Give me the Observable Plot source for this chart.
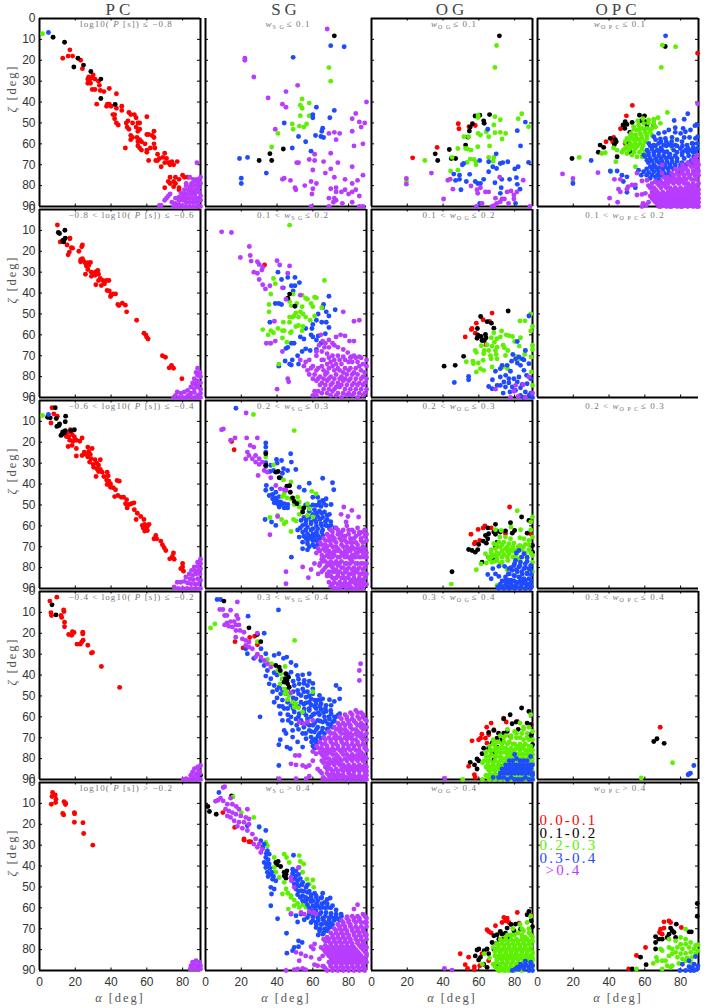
<!DOCTYPE html>
<html><head><meta charset="utf-8">
<style>
html,body{margin:0;padding:0;background:#fff}
g[font-family="Liberation Serif"]{letter-spacing:1.9px}
g[font-size="17"]{letter-spacing:4px}
g[font-size="15"]{letter-spacing:2.2px}
g[font-size="9"]{letter-spacing:1.05px}
</style>
<script src="https://cdn.jsdelivr.net/npm/d3@7"></script>
<script src="https://cdn.jsdelivr.net/npm/@observablehq/plot@0.6"></script>
</head><body><div id="c"></div>
<script>
const columns=["PC","SG","OG","OPC"];
const rows=[1,2,3,4,5];
const colorNames=["0.0-0.1","0.1-0.2","0.2-0.3","0.3-0.4",">0.4"];
const colorValues=["#ff0000","#000000","#5ef000","#1f4bff","#b83cff"];
const axisless=["SG1","OPC2","OPC3"];
const greenOverBlue=["SG2","SG3","SG4"];
const xTicks=[0,20,40,60,80];
const yTicks=[0,10,20,30,40,50,60,70,80,90];
const titleByPanel={
PC:["log10( *P* [s]) ≤ −0.8","−0.8 < log10( *P* [s]) ≤ −0.6","−0.6 < log10( *P* [s]) ≤ −0.4","−0.4 < log10( *P* [s]) ≤ −0.2","log10( *P* [s]) > −0.2"],
SG:["*w*{S G}≤ 0.1","0.1 < *w*{S G}≤ 0.2","0.2 < *w*{S G}≤ 0.3","0.3 < *w*{S G}≤ 0.4","*w*{S G}> 0.4"],
OG:["*w*{O G}≤ 0.1","0.1 < *w*{O G}≤ 0.2","0.2 < *w*{O G}≤ 0.3","0.3 < *w*{O G}≤ 0.4","*w*{O G}> 0.4"],
OPC:["*w*{O P C}≤ 0.1","0.1 < *w*{O P C}≤ 0.2","0.2 < *w*{O P C}≤ 0.3","0.3 < *w*{O P C}≤ 0.4","*w*{O P C}> 0.4"]};
// each panel: [red, black, green, blue, purple], flat alpha,zeta pairs
const PC1=[
[13,19,16,18,17,15,18.5,18,23,20,24,24,30,27,27.5,28,29,28.5,27,29,28,30,31,29,27,31,28.5,31,33,30,33.5,32,29.5,34,31,34,34,34.5,36,35,39,33.5,32,41,38,41,39,41,37.5,42,40,42,43,36,41,46,42,46,43,43,46,42,46,44,42,48,43,50,44,51,50,45,51,46,53,46,54,47.5,55,50,48.5,50,49,52,50,53,49.5,49,52,50,54,52,56,50,56,53,55,54,60,47,51,56,51,58,52,57,54.5,57,55,59,56,58,57,59,48,62,55,61,56,62,57,63,59,60,60,55.5,61,55.5,63,56,64,54,64,57,60,63,62,62,64,60,64.5,62,60,64,61,68,65,68,66,65,66,68,68,71,67,67,69,66.5,70,64.5,71,67,70,69,72,69,73,69,74,68.5,73,70,75,70,77,68.5,72,78,73,76,73,79,70,81,75,78,75,80.5,76,79,76,76,78,77,78,81,80,75,81,76,83,76,78,82,85,83,85,80,88,80,89,90],
[7.6,9,14,11.4,21.5,19,24.6,22.3,19.2,23.2,28.7,25.4,34.3,29,34.3,38.3,42.3,41.2],
[1.7,7.3],[5,6.7],
[88,69,82,79,84,76,86,77,88,77,90,76,85,79,87,78,89,78,82,80,84,80.5,86,80,88,80,90,79,81,82,83,82,85,82,87,82,89,81,79,83.5,81,84,83,84,85,84,87,84,89,83,90,85,78,85.5,80,85.5,82,86,84,86,86,86,88,86,76,86,78,87,80,87,82,88,84,88,86,88,88,88,90,87,74,88,76,88.5,78,89,80,89.5,82,90,84,90,86,90,88,90,90,90,72,85,73,84,71,86,70,87,67,89.5,68,89.5,75,90,77,90,79,90]];
const PC2=[
[10,7.4,11.6,15.5,17,13.7,17,14,15.4,17,17.8,18.3,18.5,18.5,16.7,20.4,16,21.7,22,20,24,17,23.6,17.8,23,24,24,23.6,23,25,24.7,24.7,25.7,25.7,27,25.5,28.5,25.4,27.5,26.8,26.2,27,27,28.7,25.7,31,29,30,30.3,30.5,31.6,29.8,32.6,29.2,29,32,31,31.5,33,31,34,33,33,34,35.4,34,34.6,36.4,31.5,36,36.3,35.6,37.5,34,38.8,34,37.8,38.8,39,39,40,41,39.7,41.7,41.2,40.4,42.5,40.4,43.8,45.5,44.4,46,46.3,44.8,48,45.8,48.7,49,54.3,53,58.4,59.2,59.4,60,60,61.2,60.7,62,68.7,70,70.4,70.7,73.8,74.6,72.5,75.8,74.9,76,79.6,81],
[14.2,9.9,10.5,11,11.2,11.5,13,14.8,13.9,14.4,14.4,13.7,13.5,15.5],[],[],
[88.4,76,89.7,78,87.5,78,88.4,79.4,90,80,86.5,81,88,82,90,83,85.6,83,87.4,83.7,84.6,85,86.5,85.8,88.5,85,90,86,82.8,86.6,86,83.5,88,84,76,89,77,87.4,79,88,81,87.4,83,89,84.6,88,86.5,87.5,88.4,89,90,88,75,90,78,90,80,90,82,90,85,90,87,90,90,90]];
const PC3=[
[7,3.5,8,6.4,10,7.5,6.4,10.8,14.8,15.6,16.3,15.2,17.2,14,15,17.2,16.3,17.5,18.2,16.3,19.5,17.5,16.9,19,18.7,19.5,20.6,19,22.5,19.5,23.8,17.9,16,22,18.2,21.5,20.6,23,20.6,26.6,23.8,26.3,27,22.3,27.5,24.4,29.4,23,25,24.7,26,25.8,28.4,25.8,27,27,28.8,27.9,31,28.4,34,28.4,28,29.5,30,30.6,32,30,33,31,30.3,32,32,32.7,34,33,31.6,36.4,35,34.3,33,34,37.8,34.3,38.4,36,36,36.4,37.5,38,38.8,38.6,37.8,40.2,39.7,40,41.2,41.8,42.5,42.7,39.7,41.5,43.4,38.3,44.6,38.6,42,46,43.8,45.5,45.7,46.3,47,46.3,48.7,47.5,48.1,49.4,50,49.8,51.3,49.4,52.8,49,49,51.4,53,52.3,54.7,54,54,57,56.6,55.5,58.4,57,61.2,59.3,57.5,59.8,58.8,59.3,60.3,60.3,58,61,59.4,61.4,60.3,62.2,58.8,62.5,65,64.6,64,66.2,65.5,66.2,67.8,67.3,68.7,69,69.7,70.5,70.6,71.8,74.9,73,74.3,74.6,72.8,75.8,75.3,76,80,78,80,79.7,79,80.5,80.5,81.7],
[8.8,3.5,4.5,8,6,8.3,9.4,8.6,14.6,7.5,14.4,10.2,11.2,11.2,9.7,12.4,10.9,12,13,15,14.4,14.4,12.5,16.3,12,16.7,13.9,15.6,17.6,14.4,19.5,14],
[1.7,7.2],[5,6.7],
[90,76,88.4,77.4,90,78,86.5,79.7,88.4,79.4,90,80.5,85,81.3,87,81.7,88.8,81.3,83.7,83,85.6,83.7,87.4,83,89.7,83,81.8,84.5,84,85.3,86,85.8,88.4,85.3,90,86,77,87,79,87,81,86.6,82.8,87.4,84.6,87.7,87,88,88.8,87.7,75.3,89.3,77.5,90,80,90,82.5,90,85,90,87.5,90,90,90]];
const PC4=[
[5.8,4.6,9.7,2.7,6.4,10.2,6.7,11.5,13.5,8.8,13.7,9.6,12,11.5,12.4,12.4,14,14.7,14,16.9,16.3,20.6,18,21,18.4,19.3,19.3,19.6,24.2,19.5,24.2,20.3,24.4,23.3,21,25.2,22.8,25.2,23.6,24.2,27,25.7,29,29.5,29.6,29.2,34.6,35.9,44.8,45.9],
[7,6.4,9.2,11.2,90,88],[],[],
[90,83.3,88.4,84,86.6,84.8,89,85.6,85.6,86.4,87.4,87.2,89.6,87.2,84.6,88,86,88.8,88.4,88.8,80.5,90,82,89.6,83.7,90,85.6,90,87.5,90,90,90]];
const PC5=[
[7.3,4.8,7,6.7,8.8,6,9.2,8,9,9.6,6.6,10.4,13.7,9.2,14.6,9.9,14.5,10.5,13,14.8,13.5,15.5,19.5,14.4,19.6,15,19.5,19,24.3,19.3,24.7,24.4,29.8,30],
[],[],[],
[87.5,85.3,89.3,86,85.6,86,84.7,87.7,86.5,87.2,88.4,87.7,90,87.7,84.3,89.3,86,89.3,88,89.3,90,89.3]];
const SG1=[[],
[72,8.3,43.5,62.5,36,64.7,30,68,37,68],
[69,23.5,70,30,54,38.5,58,40.5,53,41.5,54,43,58,46.5,53,46.5,48.5,50.5,49,53,56.5,50.5,52.5,51.5,55,52,40.5,55,37,61.5],
[49,18.6,70,13,77.5,13.5,62,42.5,72,44,60,46,60,47.5,69.5,47.5,44,50,65.5,52.5,65,54,61.5,56,64.5,56.5,66,57,52,56.5,56,59,48.5,62,59,63.5,19,67,23.5,66.5,34,74,20,76.5,20,79],
[68,5,22,19,22,20,27,28,51.5,32,45,35,35,38,43,41,45,42.5,39,53,82,54,82,48,84,45.5,86,49.5,87,52,69,55,72,54.5,75,55,73,58,83,61,70,64.5,58,67.5,61,65,61,68,66,68.5,51,69,52,69,60,72.5,70,72,74,69,82,71,67,74,72,76,78,77,85,77.5,43,77,44,76.5,47.5,77.5,50,81,50.5,82,55.5,80,59,78,62,79,60,81.5,59.5,84,70,81.5,73,81,73,83,76,83,78,82,80,84,82,83,82,79,72,86,69,86,71.5,88,73,87,76.5,88.5,59,90,69,90,88,75,86,85,90,40,89,50,88,60,84,82,86,90,82,88,88,90]];
const SG2=[
[33,26.6],
[47,40.5,46,42.5,50,46.3],
[47,7.5,38,33,39,35.5,36.5,40.5,66.5,34,49,40.5,54,41,56,42.5,57,43,61,42,62,42.3,47,44,48,46,51,45,35.5,45.5,35.5,49,59,45,60,46.5,65,47,54,46.5,53,49,50.5,49.5,48.5,51.5,47,51.5,49.5,51,54.5,50,52,51.5,56,51.5,61,51,58.5,53,43.5,54,47,54,52,55.5,54.5,56,50.5,56,32,57.5,40.5,57,43,58,44,58,36.5,58,38,59,35,60,48,58.5,47.5,59,43,61.5,45.5,63.5,54,58,36,64,41,74],
[40.5,30,42.5,33.5,46,32.5,50,32.5,52.5,35,50,36.5,48,36.5,43.5,37.5,49,39,69,41.5,39,45,41,45,42.5,45.5,66,45.5,65.5,47,72.5,48,67.5,49,69,51,63,50,62,53,65,54,67.5,54,69,56.5,36,54,56,57,60,55,59.5,57,67,59.5,59,60,63,60.5,60,61,62,62.5,53,61,55,62,48,64,49.5,64,46,66,45,66.5,51.5,70,54,68,56,66.7,58.5,67.5,62,67,64.5,64,44.5,72.5,48.5,72,47,74,48,74.5,52,74,41,75],
[9,10.7,14.5,11,24.5,17.7,25,22,19.5,23,25.5,24.7,29,25,30,26.3,32,27.6,31.5,29,27,30,29,30.5,30,33.5,32,36,33.5,38,36,36.5,40,24.5,41.5,26.6,47,27,46,30.5,43,37.5,45,43,53,41,77,49,83,53.5,86,53,38.5,53.5,34,64,36.5,64,39,63,43,68,40,86,46,81,46.5,82.5,64.5,60,73,61,75.5,60,78,60.5,80.5,63,83,63,65.5,63,67,64,69,62.5,71,64,63.5,65,66.5,66,69,66,72,65,74,66,77,67,79.5,68.5,81.5,70.5,83,70,86,70.5,62,68,65,68,68,69,71,70,74,70,77,70.5,53,72,56,73,58,72,62,70,65,72,68,74,70,73,73,74,76,74,80,73,82,73,85,73,88,74,55,75,57,77,60,75,63,76,66,77,69,76,72,77,75,77,78,76,81,76,84,76,87,77,90,75,58,79,61,79,64,80,67,79,70,80,73,79,76,80,79,79,82,79,85,79,88,80,62,82,65,83,68,82,71,83,74,83,77,82,80,82,83,83,86,83,89,83,61,87,63,87,66,86,69,86,72,86,75,85,78,86,81,86,84,86,87,86,90,86,70,89,73,89,76,90,79,89,82,89,85,90,88,89,60,89,62,89]];
const SG3=[
[14.6,19.6,16,23.6],
[33.7,25.5,33.7,31,39.3,34.3,40.6,34,41.2,37,45.5,41,47,40.8,47.4,43.9,48.7,46.6,49.6,48.3,51.1,49.4,54.9,51.4,54.3,53.4],
[33.7,27,38,30.8,49.6,14.4,26.8,6.7,43.6,38,47.8,39,59.4,43.5,61.8,44.7,44,44.7,43,46,45.5,46.6,47.8,47,51.5,46.3,52.4,48.6,49.6,49.8,57,49.4,52.4,51,54.3,52.6,58,51.8,52.4,54.5,57,55,60,55.8,36,56,40.3,55,42.5,57,44,59,45,58.2,49.2,57,50.6,57.7,47.8,62.7],
[17,3.7,33.7,20.3,33.7,22.3,33.7,24.7,47.6,25.5,33.7,29.8,33.7,31.6,36.5,31,39.7,28.2,42.5,28.7,40,30,48,29.5,36,34,38,33.5,43.6,32.7,45.9,33.5,50.5,33,43,34.8,42,37,58,39.6,65.5,37.2,71,39.4,71.7,42.7,34,40.7,33.7,43,37,42.3,35.6,45.5,37.5,45,39.3,43.9,37.5,47,39.3,46.6,41.2,46,38.4,49,40.3,49.4,42,48.6,44,49.4,46,49.8,41.2,51,44,51.4,45.9,51.4,52.4,41.5,55.2,43,60,46.3,62.7,46.3,67.4,47,65.5,47.8,63.7,48.6,70.2,49.8,61.8,50.2,64.6,50.7,67.4,50.2,58,51,60.9,52.3,63.7,53,66.5,53.4,69.3,54.5,60,54.5,62.7,55.5,65.5,56,68,57,53.4,57.4,56.2,57.4,59,58.2,61.8,58.2,64.6,59,67.4,59.8,70.2,59.8,72.5,61,54.3,59.8,57,60.6,60,61.4,62.7,61.4,65.5,62,69.3,61.4,51.5,62,54.3,63,57,63.8,60,64,62.7,64.6,65.5,64.6,52.4,65.4,56.2,66,59,66,61.8,67,54.3,67.8,57,68.6,60,69,62.7,69,54.3,71,57,71.5,48,75,33.3,57,36.9,58.2,39.3,59.8],
[22.7,6,10,13.6,9,14,16.5,17.9,14,19,23,17.9,29,17.9,25,21.5,27,22.3,23.4,24.7,22.5,28,24.3,26.3,26.2,27.9,28,26.3,30,27.9,28,29.5,30,30.6,31.8,29.5,32.8,33.5,34.6,34.3,29.4,35.9,36.5,37,39.3,40.7,41.8,42.3,44,42.7,45,43,77.3,51,81.8,52.6,75.8,54.5,79.6,55.5,85.6,55.8,78.6,58.2,36,64.3,40.3,55.5,45,82,45,87.7,54.3,79.7,59,80.9,57.5,84.8,60.9,78,63.7,79,65.5,76.6,70,62,73,61,76,63,79,60,82,62,85,61,88,63,68,64,71,65,74,64,77,65,80,64,83,66,86,64,89,65,66,66,69,67,72,67,75,66,78,67,81,68,84,68,87,67,90,67,64,68,67,69,70,69,73,70,76,69,79,70,82,70,85,71,88,70,63,71,66,71,69,72,72,72,75,72,78,72,81,72,84,73,87,72,90,73,62,73,65,74,68,74,71,75,74,75,77,74,80,75,83,75,86,75,89,75,65,76,67,77,70,77,73,77,76,77,79,78,82,77,85,78,88,78,64,78,68,79,71,80,74,79,77,80,80,80,83,80,86,80,89,80,66,81,69,82,72,82,75,82,78,82,81,83,84,82,87,83,90,83,63,83,68,84,71,85,74,84,77,85,80,85,83,85,86,85,89,85,69,87,72,87,75,87,78,87,81,87,84,88,87,87,90,88,70,89,73,90,76,89,79,90,82,90,85,90,88,90]];
const SG4=[
[16.5,24,21,27,24.7,22,27.5,21.4,29,25.5],
[10.3,4.6,24.3,17.4,29,20.6,30.9,24,39.3,35.4,41.2,36.2,41.8,37.8,44.9,39.4,44,43.4,45.5,42.6,45.9,44.2,46.8,45.8,44.6,41.8,46.4,41],
[34.6,32.5,36.9,34.6,44.5,35.9,49.8,23.4,29,24,5.2,15.5,2.8,17.5,40.3,37.8,42,39.4,43,41.8,41.8,44.2,44,46.6,45.5,48,44.4,49,46.8,49.8,45.9,51.7,48.7,53,50.6,53.7,49.6,55.3,51.9,55.8,54.3,57.7,60,48],
[6.5,3.8,8.4,3.8,23.8,11.8,40.8,8.8,32.8,20,22.5,27.4,23.4,29.8,27,32,31,27.4,33.7,29.8,38.4,30.6,41,29.8,45.4,31.4,43.6,32,47.8,34,50.6,35.4,47.8,38.6,58,39.4,54.3,39.9,51.5,40.2,30.9,33,32.8,35.4,34.6,37.8,33.7,40.5,36.5,41.8,38.4,38.9,35.6,44.2,38.4,45,41.2,45.8,37.5,48,42,49,38.4,53,43,52,41.2,54.9,44,56,30.5,60,41.8,58.5,43,61.7,46.3,61.7,44,66.5,45,68,41.8,71,41,73.4,45.5,74.5,47.4,75.3,48.7,66.5,48.7,69.7,51.5,72,54.3,74.5,54.3,68,56.2,70.5,41,83.3,73,45,75,46.6,75,51.4,75,58.5,72,52.6,69.3,51.8,70.2,54.5,60,44,60,46.6,63.7,49.8,65.5,51.4,49.6,45,52.4,44.2,55.2,42.6,57,45,51.5,47.4,54.3,46.6,57,48,60,49,62.7,52,53.4,49.8,56.2,50.6,59,51.4,61.8,53.7,64.6,53.7,67.4,54.5,50.6,51.4,53.4,53,56.2,53.3,59,54.2,61.8,56,64.6,56.5,67.4,57.4,70.2,58.5,72,60,55.2,56.2,58,57,60.9,58.5,63.7,59,66.5,60,69.3,61,56.2,59.3,59,60,62.7,61.7,65.5,62.5,68.4,63.3,71,62.5,74,59.3,57,63.3,60,64,62.7,65,65.5,65.4,68.4,65.7,71,65,58,66.5,60.9,67.3,63.7,68,66.5,68,69.3,67.3,59,69.7,61.8,70.5,64.6,70.2,59.3,72,61.8,72.9,60,74,49.6,57.7,52.4,58.5,50.6,61,53.4,61.7,47.8,60,47.8,54.5,45.9,53,49.6,53.7,45,49],
[17.8,5,8,8.6,9.7,8.6,14,9,10.7,11.5,12,11.5,17.4,11.5,18.2,13,10.7,16,12,15,14,14.4,16,14.4,13,16.6,15,17,17,16,18.7,16,17,18.7,19.3,18.7,21.5,19.5,16.9,21.9,20.6,22.7,22.5,23.4,24.3,24.2,22.5,25.8,24.3,26.6,26.2,27.4,29,20,29,30,31,31.4,28,31.4,32.8,33,34.6,34.6,36.5,36.2,47.8,48.5,52.4,62.5,54.9,63.3,57,62.5,60,61.7,50.2,78.5,52.4,78.5,47.8,82.5,50.6,83,54.3,83.3,56.2,84,60,81,58,83.3,62.7,85,61.8,77.7,60,76.6,41.2,89.6,50.6,89.6,56.2,89.6,58,88.4,65.5,89.6,86.7,34.6,86,37.8,86,42.6,84,57,87,58,81,58,78,59,85,60,88,60,75,60,79,61,82,61,90,62,74,63,77,63,80,63,84,63,87,63,72,65,75,65,78,66,81,65,84,66,87,65,90,65,69,67,72,68,75,67,78,68,81,68,84,68,87,68,90,68,66,70,69,70,72,70,75,70,78,70,81,70,84,71,87,70,90,71,64,72,67,73,70,72,73,73,76,72,79,73,82,73,85,73,88,73,62,74,65,75,68,75,71,75,74,75,77,75,80,75,83,75,86,76,89,75,64,77,67,77,70,77,73,78,76,77,79,78,82,78,85,78,88,78,66,79,69,80,72,80,75,80,78,80,81,80,84,80,87,80,90,80,65,81,68,82,71,82,74,82,77,83,80,83,83,83,86,83,89,83,67,84,70,85,73,85,76,85,79,85,82,85,85,85,88,85,90,86,64,86,68,87,71,87,74,87,77,88,80,87,83,88,86,88,89,88,66,89,69,90,72,90,75,90,78,90,81,90,84,90,87,90,90,90]];
const SG5=[
[9.7,14.4,16.3,21.5,21.5,27,21.6,27.6,24.3,28.4,25.3,28.4],
[1.3,11.5,2.2,13.9,6,15.2,14.6,6.4,39.3,38.3,40.6,37.8,39.9,39.4,42,40.2,44,43,45,43.9,45.5,42.3,44,44.7,45,45.8],
[20,14.4,27,16.7,30,21.5,15.4,6.9,33.7,28.7,34.6,30.3,44,34.3,45.3,35.9,52.4,35,53,37.8,54.9,39,52.4,40.7,54.3,43,56.7,46.3,60,46.7,58,48.6,60.5,50.2,46.8,38.3,38.4,35.9,38.4,40.7,39.3,43,41.2,45.5,44,47.8,45,51,46,53,47.8,54.2,49.6,56.3,51.5,57.9,54.3,58.5,56.2,59.8,46.3,60.6,47.8,55,49.6,59,52.4,59.8,43,53.4],
[7.5,4.8,33.7,23,30,21.2,23.4,20.7,36.5,50.2,38.4,51,36.9,53.4,36.5,59,40.3,65.2,45.3,72.2,45.5,81.7,48.7,80.5,49.6,79,52,75.8,52,78.6,54,76.6,49.2,34.8,32.8,29.5,34.6,32.7,33.7,35.9,32.8,38.3,33.7,40.7,35.6,39,34.6,43,36.5,43.9,37.5,46.3,39.3,47,30.9,27.9,35.6,34.3,48.7,41.5,50.6,42.3,48.7,43.9,50.6,44.7,48.7,46.3,51.5,47,49.6,48.6,52.4,49.4,54.3,47.8,50.6,51,53.4,51.8,56.2,50.2,51.5,53.7,54.3,54.2,57,52.6,59,53.7,61.8,54.2,65.5,53,64.6,55.3,69.7,55.3,54.3,56.6,57,55.8,60,56.6,62.7,56.6,66.5,57.4,57,58.5,60,59,62.7,59,65.5,59.8,68.4,59.8,59,61.4,61.8,61.4,64.6,62.2,67.4,62.2,70.2,62.7,73,63,75.8,63,57,64.6,60,64.3,62.7,64.6,65.5,65,69.3,65,72,65,74.3,65.4,59,67,61.8,67,64.6,67.8,67.4,67.5,70.2,67.5,61.8,69.4,63.7,71,65.5,72.6,66.5,70.2,69.3,69.4,53.4,63,50.6,63.8,55.2,65.7,51.5,66.8,47.8,63],
[10.7,2,9.9,2.4,8.4,7.5,5.6,9,7,8.5,9.9,8.8,12.2,10.4,14,7.5,15,10.4,17.2,11.5,18.7,12.8,11.2,12.8,13,13.6,15,14.4,17,15.2,12.2,16,14,16.7,23.4,12.8,19.7,16,22.5,16.7,24.3,17.5,16,18.3,18.7,19,21.5,19,24.3,20,17.8,21,20.6,21.9,23.4,23,26.2,24.7,28,27,30,29.5,31.8,32,27,29.5,29,31,30.9,33.5,52,40.7,47.8,45.5,48,47,49.6,50.2,47.8,62.7,53.4,62.2,55.2,63,58,61.7,60.5,62.2,61.8,63,85,58.5,83,60.6,79.2,64.3,61,77.3,59,78.6,60.3,79.7,50.6,81.3,53.4,82,56,83,59,83.7,52.4,85.3,49.6,89.6,51.5,89.3,54.3,89,56,89.6,45,90,64.6,79,67.4,80.5,65.5,83,63.7,84.5,62.7,87.7,65.5,88,60.9,87.2,76,66,79,65,82,64,85,64,88,63,90,65,74,68,77,68,80,67,83,66,86,66,89,67,72,70,75,70,78,70,81,69,84,69,87,69,90,69,70,72,73,72,76,72,79,72,82,71,85,71,88,71,68,74,71,74,74,74,77,74,80,74,83,73,86,73,89,73,66,75,69,76,72,76,75,76,78,76,81,76,84,75,87,75,90,75,67,78,70,78,73,78,76,78,79,78,82,78,85,77,88,77,66,80,69,80,72,80,75,80,78,80,81,80,84,80,87,79,90,79,68,82,71,82,74,82,77,82,80,82,83,82,86,82,89,81,70,84,73,84,76,84,79,84,82,84,85,84,88,84,90,83,69,86,72,86,75,86,78,86,81,86,84,86,87,86,90,86,66,88,70,88,73,88,76,88,79,88,82,88,85,88,88,88,68,90,71,90,74,90,77,90,80,90,83,90,86,90,89,90]];
const OG1=[
[23,66.7,36.7,61.7,48.5,50.4,48.9,52.8,54.5,51.8,58,51.2],
[71.5,8.3,35.6,64.8,37,68,43.5,62.7,44.6,67,47,67,52.6,60.6,54,56.8,54.7,53.9,55.2,52,56.4,50.4,57.9,46.7,60.5,46.3,62.7,49,63,50.2,66,46],
[69.9,12.9,69,23.4,29.8,68,19.5,78,44.2,73,45,66.5,48.3,62.2,48.3,72.6,51.7,56.6,54.3,56.6,52.6,62.2,53.7,62.5,55.6,63,55.2,67.3,57.3,67.5,58.4,68.6,58.4,70,53.4,68.9,59.6,46.3,59.6,47.4,59.6,55,60.9,55.8,59.4,61.4,64.2,54.2,65.5,56.6,66,61,69,47,72,48.5,68.4,51,69,54.7,72,54.5,73,57.7,75,55,65.5,66.5,68.4,66.5,68,68.3,82,48,84,45.6,87.8,51.8],
[65,53,69.7,64.8,86,49.6,81.5,53.7,83.3,61,87.8,68.9,82,71,80.1,72,76.2,68.6,73.4,69,72,69.4,60.5,68,65.5,68.6,51.5,69.4,50.8,70,67.8,71,69.9,71.8,46,74.5,49.2,75,49.2,77,47,77.5,50,82,53,78,54.9,74.6,58,78,59.4,79,60.9,79,62.7,77,65.5,73.4,69,78.6,72.8,77,77.2,77,72.5,81,72,83.7,81,76.2,81.5,79.4,83,81.7,60.5,88.5,80.5,88.5],
[19.5,76.6,19.5,79.3,33.5,74,40.3,86.4,42.7,77.4,44,76.9,45.5,81.7,55.6,80.2,59.4,83.7,59,82,60.9,81,63.7,83,65.5,83,71.7,76,75.8,83,78,82.6,79.6,84.5,81.3,83,84.8,77.4,69.3,86,74.3,86.4,73,86.4,72,87.7,70,88.5,68.4,89.6,67.4,90,76.6,88.5,79.6,86.4,61.8,88.5,58.6,90,88.6,90]];
const OG2=[
[67.4,49.6,62.4,52.8,58.6,54.4,56.2,57,58,59.2,52.4,61,66,53.6,64,64.8,55.8,57.5],
[76.4,48.6,61,51.2,64.6,53.7,67,54.4,68.4,56.8,59.2,57,59.4,60,59,61.6,61.2,60.8,61.8,62.7,63.7,59.8,64,61.4,63,62.7,51.5,70.3,46.8,74.6,40.6,75],
[89,50,83,53.4,85.8,53.3,90,56,89,58.2,72.7,58.2,68.4,59,75.3,60,76.8,60.4,78.8,60.8,72,61,70,61.9,67,61.4,83.3,61.4,80,63.2,68.7,63.5,61.4,65.2,64.6,64.8,67.4,65.4,70.2,65.9,73.6,65,74.3,66.2,82.6,65.4,90,65,90,67,86,67.5,58,67.5,58.6,68.4,63,67.5,65.5,67.5,69.3,67.5,76.2,67.5,62.7,69,66.5,70,69.7,69.4,74.9,69.9,85.6,69.4,89.3,70.6,53,72.9,56.7,72.6,57,73.8,59.7,73.5,62.4,72.2,66.9,71.5,70.2,71.5,67.4,75.4,58.6,77.8,60.9,76.2,62.7,77,73.4,75.4,76,76.2,80.9,70.3,82.4,71.5,89.3,77.8,90,84.2],
[81.5,63.2,88,51,86,67.5,79,69.4,78.3,72.6,80.5,71.5,82.4,70.6,84.2,71.5,85.2,72,88,73.8,81.5,73.5,83.3,74.6,75.8,74.6,73,74.6,72,76.2,69.3,77.4,77.7,77.4,54.3,79.9,54.3,81.5,46.3,82.8,67.6,81.5,65.5,84.7,67.4,85.8,70.2,84.2,72,80.2,75,79.4,76.8,81,79.6,81,82.4,80.2,85.2,77,86.7,79.4,89,81,74,82.6,72,84.2,76.8,83,81.5,82.6,84.3,83.7,87,83.4,74.9,85,78.7,85,80.5,86.6,83.3,85.3,73.6,87.9,77.4,87.4,83.3,89,86,87.4,89,87.9,88,89,90,90,85,90],
[80.5,84.2,84.8,83.9,88,80.2,69.3,86,79.6,87,77.7,90,86,90,82,89.5,90,88]];
const OG3=[
[77.2,51,55.6,64,59.6,61.7,62.4,61,63.4,60,66.9,61,58,67.8,57.5,68.6,60.5,67,74.9,63.8,88.9,63.8],
[45,82,83.9,55.8,77.7,58.5,88,57.4,69.3,59.3,65,61,68.4,63,70,62.5,74.9,62.5,80,62.2,78.7,63.5,87,63.5,63.7,64.6,65.5,63.8,65,66.2,62.4,67.3,64.2,68.3,59.9,68.9,54.3,71.3,56.2,71.8,58,72.6,59.4,71.4,70.2,67.8,69.3,70,65.5,75,68,75.4,90,69.4,90,72.6,61.8,77.4,69.3,64,72,63],
[81.5,52.8,90,55.8,89,58.2,78,60.6,69.3,61.9,72.5,62.2,83.3,61.9,89,62,74.9,65.4,71.7,65.4,77.7,66.2,82.9,65.7,85.2,66.2,88,67,90,65.4,68.4,68.6,71.2,67.8,74,67.8,76.8,68.6,79.6,68.3,82.9,69.4,86,68.9,66.9,71.4,69.3,71,72,70.2,74.9,71,77.7,71.4,80.5,71.8,84.2,71.4,88,71.4,63.7,73.4,65.5,75,68.4,74.2,71.2,73.4,74,73.7,76.8,73.4,80.5,74.2,83.3,75,87,75.8,90,74.2,64.2,77.8,67.4,77.4,70.2,76.6,73,77.4,76.2,76.6,61.2,78.2,58.6,81,75.8,81,90,77.4,90,82,44.6,87.9,70.2,88.5,70,69,73,69,76,70,79,70,82,70,85,70,88,69,67,73,70,73,73,72,76,72,79,72,82,72,86,73,89,73,67,75,70,75,73,75,76,75,79,75,82,76,66,76,69,77,72,78],
[65,83.3,66.9,85.3,67.8,80.5,71.2,79.4,74.4,79.4,76.8,80.5,82.4,71.8,85.2,73.4,87,75,80.5,76.6,83.3,77.4,86,78.2,89,79,79.6,79,82.4,79.7,85.2,80.5,88,80.5,78.7,81.3,81.5,82,84.3,83,87,82.6,89.3,83.3,69.3,83,71.2,84.2,74.9,84.5,79.6,83.7,82.4,84.5,85.2,85.3,88,85.3,73,86.4,76.8,86,79.6,86.4,82.9,87,86,87.4,89,87.7,70.6,89.3,73,89.3,75.8,89.3,78.7,89,81,89.3,83.6,89.3,86.6,89.3,89.3,89.3,76.5,83,77,87,81,73,84,75,87,77,80,78,83,79,86,80,89,81,78,80,81,81,84,82,87,83,77,83,80,84,83,85,86,86,89,86,75,86,78,86,81,87,84,87,87,88,72,88,75,88,78,88,81,88,84,88,87,88,89,88,71,90,74,90,77,90,80,90,83,90,86,90,89,90],
[]];
const OG4=[
[66.9,63,73.9,60.6,81.5,62.2,89.3,63.8,75.3,62.5,64.4,65,68.4,66.2,61.7,68.3,61,70.2,56.2,71.5,59.9,71,63.7,70.2,64.6,72.6,65.5,68.6,54.3,83.7,57.5,87.7,58,89,77.7,69.4],
[83.9,55.8,77.5,59,88,57.4,73.9,61,78.6,63.3,80.9,62.5,87,63,89,63.8,89.3,68.3,68.4,66.5,65.5,67.5,71,67.8,73.9,67.8,75.8,67,70.2,70.2,73,71,67.4,72.6,65.5,75,62.7,75,70.2,74.5,61.8,77.7,59,80.2,59.9,81,55.2,81.8,57.6,83,59,85,67.4,77.4,68.4,80.5,72,83.7,88,69.4,90,73.4,82,66],
[89,59,83,63,76,66,85,65,88,65,90,67,80,67,84,68,87,68,72,69,75,69,78,70,81,70,85,71,88,71,90,71,68,71,71,72,74,72,77,72,80,73,83,73,86,73,89,74,66,74,69,74,72,75,75,75,78,75,81,75,84,75,87,76,90,76,64,77,67,76,70,77,73,77,76,77,79,77,82,78,85,78,88,78,66,79,69,79,72,79,75,80,78,80,81,80,84,80,87,80,90,80,62,82,65,81,68,82,71,82,74,82,77,82,80,82,83,82,86,82,89,82,64,84,67,84,70,84,73,84,76,84,79,84,82,84,85,84,88,84,66,86,69,86,72,86,75,86,78,86,81,86,84,86,87,86,90,86,64,88,67,88,70,88,73,88,76,88,79,88,82,88,85,88,88,88,62,90,66,90,69,90,72,90,75,90,78,90,81,90,84,90,87,90,90,90,51,90,85,66,81,68,78,69,74,70,83,70,87,70,70,72,73,73,76,73,79,73,82,74,85,74,88,74,68,73,71,75,74,75,77,76,80,76,83,76,86,76,89,76,66,76,69,76,72,77,75,77,78,78,81,78,84,78,87,78,90,78,64,79,67,78,70,79,73,80,76,79,79,79,82,80,85,80,88,80,63,81,66,81,69,81,72,81,75,82,78,82,81,82,84,82,87,82,90,82,65,83,68,83,71,83,74,84,77,84,80,84,83,84,86,84,89,84,65,85,68,85,71,85,74,85,77,86,80,86,83,86,86,86,89,86,66,88,69,87,72,87,75,87,78,87,81,87,84,87,87,87,65,89,68,89,71,89,74,89,77,89,80,89,83,89,86,89,89,89],
[80,78,77,81,81,80,85,81,89,79,75,83,79,83,83,83,87,83,90,83,73,85,77,85,81,85,85,85,89,85,72,87,76,87,80,87,84,87,88,87,90,87,68,89,71,89,74,89,78,89,82,90,86,89,90,90,79,81,83,81,87,81,77,83,81,83,85,83,89,83,75,85,79,85,83,85,87,85,74,87,78,87,82,87,86,87,90,88,72,89,76,90,80,90,84,90,88,90],
[41,89.5]];
const OG5=[
[81.5,62.2,74,64.6,75.8,65,76.8,67,73,67,75,66.2,64.6,70.5,65.5,71.3,66.9,72,69.3,68.6,82.4,67.3,89.3,63.8,49.6,82,54.3,83.6,52.4,87.2,53.7,89,57.5,88.2,57.5,89.6,60.5,87.7,65.5,85.3,61.8,82],
[88,61.7,87,63.3,89.3,66.2,90,69,80.5,67.8,78,68,75.8,69.7,72,71.3,73,72.6,68.4,73.4,70.2,72.9,74.9,72.2,76.8,74.2,79.6,71,83.3,70.2,71.2,75,74,75,67.4,76.6,69.9,77,64.6,79.7,63,80.5,59,80.2,60,79.7,58,83,60.9,83.7,65.5,82,59.9,85,62.7,87,64.6,88.5,69.3,87.7,68.4,79.7],
[89,64,87,67,83,68,79,70,84,70,88,70,76,73,80,73,84,73,88,72,90,74,72,75,75,75,78,75,81,75,84,75,87,75,90,76,70,77,73,77,76,77,79,77,82,77,85,77,88,77,68,79,71,79,74,79,77,79,80,79,83,79,86,79,89,79,69,81,72,81,75,81,78,81,81,81,84,81,87,81,90,81,71,83,74,83,77,83,80,83,83,83,86,83,89,83,66,84,70,85,73,85,76,85,79,85,82,85,85,85,88,85,90,85,68,87,72,87,75,87,78,87,81,87,84,87,87,87,90,87,70,89,73,89,76,89,79,89,82,89,85,89,88,89,71,90,74,90,77,90,62,87,63,82,85,71,82,72,78,73,75,74,86,74,89,73,73,76,76,76,79,76,82,76,85,76,88,76,71,78,74,78,77,78,80,78,83,78,86,78,89,78,70,80,73,80,76,80,79,80,82,80,85,80,88,80,72,82,75,82,78,82,81,82,84,82,87,82,90,82,69,83,72,84,75,84,78,84,81,84,84,84,87,84,90,84,70,86,73,86,76,86,79,86,82,86,85,86,88,86,69,88,72,88,75,88,78,88,81,88,84,88,87,88,90,88,72,90,75,90,80,90,84,90],
[85,87.7,81.5,88.5,80.5,89.3,83.3,87,86,85.6,89,86,88,88.5,90,87.7,82.4,89.3,85.2,89.3,88,90,90,90,83.3,88,86.3,87.4,89,87.5,78.7,90],
[40.8,89,45,89.8]];
const OPC1=[
[89.5,16.6,53,41.6,49.7,46.6,46.4,52.8,42.6,57,38.3,59,42,59,49,59.8],
[71.4,13.4,19.3,67,34,64,35,60.6,37,61.7,40.7,57.4,43.5,58,44,59,43,60.3,44.5,66.2,51,59.8,52,64,47.8,51,49,49.4,50,50.7,52.9,49.8,48.8,52.6,51.6,54.5,57,46.3,59.8,46.6,58,49,60.3,49.4,65,51,61.2,51],
[69.8,12.8,77.2,13.5,69.2,23.4,72.6,45,23.3,66.5,19.8,78,36,64.6,37.9,64.3,42.5,62,44.4,63,43.8,68.6,41,73.4,54.7,71,60.3,66.2,75.2,62,53.7,51.8,56.5,51,59.3,50.2,62.1,48.6,65,48.2,67.4,47.5,68.7,50.2,65,50.5,55.6,53.4,58.4,52.6,61.2,52.6,64,52.6,52.3,55,54.7,55.8,57.5,55,60.3,54.5,63,54.5,50,57.4,52.8,57.4,55.6,57.7,58.4,57.4,61.2,57.4,49,59,51.9,59.8,54.7,59.8,57.5,59.8,49,62.2,51.9,62.2,54.7,62.2,58.4,62.5,47.2,64,50,64.6,52.8,65.4,55.6,66.2,58.4,66.2,56,49,59,48,62,50,65,49,54,53,57,53,60,53,63,53,66,52,52,56,55,56,58,56,61,56,64,56,51,58,54,58,57,58,60,59,50,61,53,61,56,61,59,61,48,63,51,63,54,64,57,64,60,64],
[71.6,8.3,19.8,79,30,68,40.7,73,44.5,73,84,45.6,82,48.2,76.4,48.8,89.3,51,81.4,52.6,85.5,53.4,88,51.3,73.4,53.4,77,52.3,67.7,55,71,54.5,77,54.5,80,55,82.7,54.2,88.3,57.4,89.5,56.6,65,56.6,68.7,57.7,71.5,57.4,75.2,57,89.3,59.8,62.2,59.8,65,60.6,67.7,59.8,70.5,60.6,73.4,60.3,77,60.6,80.8,59,83.6,60.6,86.4,59.8,89.3,62.2,61.2,63,64,62.5,66.8,63,69.6,63,72.4,63.8,76.1,63,79.9,62.2,82.7,63,85.5,63,88.3,63.8,59.3,65.4,62.1,65.4,65,65.4,67.7,65.7,70.5,65.7,73.4,66.2,77,65.7,80.8,65.4,84.5,65.7,87.3,66.2,61.2,67.8,64,68.3,66.8,68.3,69.6,68.3,72.4,68.6,75.2,68.6,78,68.3,80.8,69,84.5,69,88.3,68.6,63,71,65.9,71,68.7,71,71.5,71,74.3,71,77,71,79.9,71.5,89.3,72.6,56.5,72.6,59.3,73.4,62.1,73.7,65,73.4,67.7,73.4,70.5,73.7,73.4,73.7,47.2,75,50,75.8,63,76.5,65.9,75.8,70.5,75.8,50,83.2,54.7,81,48,78,66,58,69,59,72,59,75,59,78,58,82,57,85,57,87,60,63,61,66,61,69,62,72,61,75,61,78,61,81,61,84,62,87,62,62,64,65,64,68,64,71,64,74,65,78,64,81,64,84,64,87,64,60,66,63,67,66,67,69,67,72,67,75,67,78,67,82,67,86,68,62,69,65,70,68,69,71,70,74,70,77,70,80,70,83,70,87,70,61,72,64,72,67,72,70,72,73,72,76,72,79,73,83,72,58,75,61,75,64,75,67,75,69,75,72,75,74,75,68,77,66,78],
[89.5,40.8,14,74.4,19.8,76.6,33.8,73.8,89.5,65.4,89.5,68.3,40.3,86,44.8,88,43,77,46.3,77,45.3,81.7,46.3,83,50,81.7,50.6,80.5,52.8,79.7,54.7,79.7,55.6,84.5,58.4,84.2,60.3,83.7,59,88.5,60.8,89.3,62.1,88,58.4,90,58.4,77.8,61.2,77.4,64,79,55.6,74,69.6,70.2,69.6,74,89,66,87,68,84,69,81,70,90,70,86,71,88,71,77,72,80,72,83,72,89,73,75,74,78,74,81,74,84,74,87,74,90,75,71,76,73,76,76,76,79,76,82,76,85,76,88,77,66,78,69,78,72,78,75,78,78,78,81,78,84,79,87,79,90,79,62,80,65,81,68,80,71,80,74,81,77,81,80,81,83,81,86,81,89,81,64,83,67,83,70,83,73,83,76,83,79,83,82,83,85,83,88,83,90,84,63,85,66,85,69,85,72,85,75,85,78,85,81,85,84,85,87,85,90,86,65,87,68,87,71,87,74,87,77,87,80,87,83,87,86,87,89,87,67,89,70,89,73,89,76,89,79,89,82,89,85,89,88,89,69,90,72,90,75,90,78,90,81,90,84,90,87,90,90,90,88,67,85,70,88,69,82,71,89,71,78,73,81,73,84,73,87,73,90,73,76,75,79,75,82,75,85,75,88,75,72,77,74,77,77,77,80,77,83,77,86,77,89,77,67,79,70,79,73,79,76,79,79,79,82,79,85,80,88,80,63,81,66,82,69,81,72,81,75,82,78,82,81,82,84,82,87,82,90,82,65,84,68,84,71,84,74,84,77,84,80,84,83,84,86,84,89,84,64,86,67,86,70,86,73,86,76,86,79,86,82,86,85,86,88,86,66,88,69,88,72,88,75,88,78,88,81,88,84,88,87,88,90,88,68,90,71,89,74,90,77,89,80,90,83,89,86,89,89,90]];
const OPC4=[[68.6,65],[65,71.8,66.8,70.5,70.8,72.7],[75.5,82,58,89.3],[87.4,83.3,85.5,87,84.2,87.7,84.8,87.3],[]];
const OPC5=[
[51,89.2,55.3,82.8,60.4,79,70.7,66.7,68.8,70.2,68.2,71.8,69.7,72.6,73.5,66.3,74.4,67,80.4,69.4,70.7,69.7],
[89.3,57.9,89.3,64,52.9,89.3,57.6,83.6,60.7,87.2,77.6,67.8,74.4,69.7,75.3,71,84.7,71.5,86,71.5,66,73.8,67.9,75,66,76.6,69.7,75,72.5,74.2,76.3,71.8,73.5,72.6,66,79.7,77.2,74.2],
[55.3,89.3,64.7,86.6,66.4,83.7,67,85.3,69.7,85.3,69.7,89.3,74.4,88.5,75.3,87.7,68.8,79.7,73.5,75,77.2,75.8,82.8,70.2,80,74.2,82.8,75,85.6,76.6,88.4,78,89.7,77.7,73.5,79,75.3,79.7,80,77.4,82.8,77.4,78.2,79,81,79.7,84.7,79,87.5,79.7,89.7,80.5,77.2,81.3,80,82,82.8,81.8,85.6,81.3,88.4,82,78.2,83.7,81,84.5,83.7,84,86.5,83.7,79,86.6,82.8,85.3,85.6,86,71.6,85.3,75.3,82,73.5,83,69.7,80.5,72.5,87.7],
[88.4,83.3,81,87,84.7,85.3,87.5,87,89.7,87.7,84.7,88.2,86.5,88.5,89.3,89.3,79.6,90,82.8,90,85.6,90,87.5,90],
[]];
// further points read from the densest clumps, by panel and colour index
const denseExtra={
SG2:{4:[66,72,69,71,72,72,75,72,78,72,81,71,84,71,87,71,90,72,59,76,62,77,65,75,68,78,71,75,74,76,77,78,80,77,83,78,86,75,89,78,60,81,63,81,66,81,69,81,72,81,75,81,78,81,81,81,84,81,87,81,90,81,64,84,67,84,70,84,73,85,76,84,79,84,82,84,85,84,88,84,65,88,68,88,71,87,74,88,77,88,80,88,83,88,86,88,89,88]},
SG3:{3:[40,48,42,50,38,47,56,50,60,50,63,50,66,49,58,53,62,54,65,54,68,55,55,56,58,56,61,57,64,57,67,58,70,58,56,59,59,59,62,60,65,60,68,60,53,61,56,62,59,62,62,63,65,63,55,65,58,65,61,65,64,66,57,67,60,67,63,67,58,70,61,70],
4:[71,63,74,62,77,62,80,62,83,63,86,63,89,62,69,65,72,66,75,64,78,65,81,66,84,65,87,66,90,64,67,67,70,67,73,68,76,67,79,68,82,68,85,69,88,68,65,69,68,70,71,70,74,71,77,70,80,71,83,71,86,71,89,71,64,72,67,72,70,73,73,72,76,73,79,73,82,74,85,73,88,73,66,75,69,75,72,74,75,75,78,75,81,76,84,75,87,75,90,75,66,77,69,78,72,78,75,78,78,78,81,78,84,78,87,78,90,78,67,80,70,79,73,81,76,80,79,81,82,81,85,81,88,81,65,82,68,83,71,82,74,83,77,83,80,83,83,83,86,83,89,83,70,84,73,85,76,85,79,85,82,86,85,86,88,86,71,88,74,88,77,88,80,88,83,87,86,88,89,88,72,90,75,90,78,89,81,89,84,90,87,89]},
SG4:{3:[40,40,43,42,46,40,49,43,52,42,55,44,58,43,40,47,43,47,46,47,49,48,52,49,55,48,58,50,40,51,43,55,46,56,49,51,52,55,55,54,58,53,61,52,64,52,46,59,49,56,52,60,55,58,58,56,61,55,64,55,67,56,70,57,73,60,48,63,51,64,54,63,57,61,60,59,63,58,66,58,69,60,72,62,52,66,55,65,58,64,61,63,64,62,67,62,70,64,56,68,59,67,62,66,65,67,68,66,60,71,63,69,66,70,62,74,61,75,62,72],
4:[85,58,88,59,82,59,79,60,86,61,89,61,76,61,80,62,83,62,75,64,78,64,81,64,85,64,88,64,73,66,76,66,79,67,82,66,85,67,88,66,70,68,73,69,76,68,79,69,82,69,85,69,88,69,67,71,70,71,73,71,76,71,79,71,82,71,85,72,88,71,65,73,68,74,71,73,74,74,77,73,80,74,83,74,86,74,89,74,63,75,66,76,69,76,72,76,75,76,78,76,81,76,84,76,87,77,90,76,65,78,68,78,71,78,74,79,77,78,80,79,83,79,86,79,89,79,67,80,70,81,73,81,76,81,79,81,82,81,85,81,88,81,66,82,69,83,72,83,75,83,78,84,81,84,84,84,87,84,90,84,68,85,71,86,74,86,77,86,80,86,83,86,86,86,89,86,65,87,69,88,72,88,75,88,78,89,81,88,84,89,87,89,90,88,67,90,70,89,73,89,76,89,79,89,82,89,85,89,88,90]},
SG5:{3:[49,43,52,44,50,46,53,46,51,49,54,49,57,49,52,52,55,52,58,52,61,53,53,55,56,55,59,55,62,55,65,55,68,56,56,57,59,57,62,58,65,58,68,58,71,59,58,60,61,60,64,60,67,60,70,60,73,61,58,63,61,63,64,63,67,64,70,64,73,64,76,64,60,66,63,66,66,66,69,66,72,66,75,66,62,68,65,68,68,68,71,68,64,70,67,70,70,69,63,73,66,72,68,71,32,31,34,34,35,37,34,39,36,41,35,45,37,43,38,45],
4:[77,67,80,66,83,65,86,65,89,64,75,69,78,69,81,68,84,67,87,67,90,67,73,71,76,71,79,71,82,70,85,70,88,70,71,73,74,73,77,73,80,73,83,72,86,72,89,72,69,75,72,75,75,75,78,75,81,75,84,74,87,74,90,73,67,76,70,77,73,77,76,77,79,77,82,77,85,76,88,76,68,79,71,79,74,79,77,79,80,79,83,79,86,78,89,78,67,81,70,81,73,81,76,81,79,81,82,81,85,81,88,80,69,83,72,83,75,83,78,83,81,83,84,83,87,83,90,82,71,85,74,85,77,85,80,85,83,85,86,85,89,85,70,87,73,87,76,87,79,87,82,87,85,87,88,87,67,89,71,89,74,89,77,89,80,89,83,89,86,89,89,89]}
};
const dataByPanel={PC1,PC2,PC3,PC4,PC5,SG1,SG2,SG3,SG4,SG5,OG1,OG2,OG3,OG4,OG5,OPC1,OPC4,OPC5};
const points=[];
const pushFlat=(c,r,k,flat)=>{for(let i=0;i<flat.length;i+=2)points.push({c,r,k,a:flat[i],z:flat[i+1]});};
for(const c of columns)for(const r of rows){
  const p=dataByPanel[c+r]; if(!p)continue;
  p.forEach((flat,k)=>pushFlat(c,r,k,flat));
  const ex=denseExtra[c+r]; if(ex)for(const k in ex)pushFlat(c,r,+k,ex[k]);
}
const rankDefault=[0,1,2,3,4],rankGreenOver=[0,3,2,1,4];
const ordered=d3.sort(points,d=>(greenOverBlue.includes(d.c+d.r)?rankGreenOver:rankDefault)[d.k]);
const panels=columns.flatMap(c=>rows.map(r=>({c,r,title:titleByPanel[c][r-1],full:!axisless.includes(c+r)})));
const fullPanels=panels.filter(p=>p.full);
const cross=(ps,ts)=>ps.flatMap(p=>ts.map(v=>({...p,v})));
const PW=161,PH=188.5,T=3;
const side={fx:"c",fy:"r",stroke:"#000"};
const frameW=2;
const titleShift=p=>(p.c=="PC"?6.5:2)+(p.r==1||p.r==5?0:5);
const titleGroups=d3.groups(panels,titleShift);
const plot=Plot.plot({
 width:706,height:1008,marginLeft:39,marginRight:8,marginTop:16.5,marginBottom:36,
 x:{domain:[0,90]},y:{domain:[90,0]},
 fx:{domain:columns,padding:0.032,axis:null},fy:{domain:rows,padding:0.0167,axis:null},
 marks:[
  Plot.ruleX(panels,{x:0,...side,strokeWidth:frameW}),
  Plot.ruleY(panels,{y:90,...side,strokeWidth:frameW}),
  Plot.ruleX(fullPanels,{x:90,...side,strokeWidth:frameW}),
  Plot.ruleY(fullPanels,{y:0,...side,strokeWidth:frameW}),
  Plot.ruleX(cross(panels,xTicks.slice(1)),{x:"v",...side,insetTop:PH-T}),
  Plot.ruleX(cross(fullPanels,xTicks.slice(1)),{x:"v",...side,insetBottom:PH-T}),
  Plot.ruleY(cross(panels,yTicks.slice(1,-1)),{y:"v",...side,insetRight:PW-T}),
  Plot.ruleY(cross(fullPanels,yTicks.slice(1,-1)),{y:"v",...side,insetLeft:PW-T}),
  Plot.dot(ordered,{x:"a",y:"z",fx:"c",fy:"r",r:2.45,fill:d=>colorValues[d.k]}),
  Plot.axisY({ticks:yTicks,tickSize:0,tickPadding:4,label:null,anchor:"left",fontSize:12,fontFamily:"Liberation Sans",color:"#333"}),
  Plot.axisX({ticks:xTicks,tickSize:0,tickPadding:7,label:null,anchor:"bottom",fontSize:12,fontFamily:"Liberation Sans",color:"#333"}),
  Plot.text(rows,{fy:d=>d,fx:()=>"PC",text:()=>"*ζ* [deg]",frameAnchor:"left",rotate:-90,dx:-28,fontSize:12.5,fontFamily:"Liberation Serif",fill:"#555"}),
  Plot.text(columns,{fx:d=>d,fy:()=>5,text:()=>"*α* [deg]",frameAnchor:"bottom",dy:27,lineAnchor:"middle",fontSize:12.5,fontFamily:"Liberation Serif",fill:"#555"}),
  Plot.text(columns,{fx:d=>d,fy:()=>1,text:d=>d,frameAnchor:"top",lineAnchor:"middle",dy:-8.5,fontSize:17,fontFamily:"Liberation Serif",fill:"#444"}),
  ...titleGroups.map(([shift,group])=>Plot.text(group,{fx:"c",fy:"r",text:"title",frameAnchor:"top",lineAnchor:"middle",dy:6,dx:shift,fontSize:9,fontFamily:"Liberation Serif",fill:"#777"})),
  ...colorNames.map((n,i)=>Plot.text([n],{fx:()=>"OPC",fy:()=>5,text:d=>d,frameAnchor:"top-left",lineAnchor:"middle",textAnchor:"start",dx:i==4?8:2,dy:38+12.5*i,fontSize:15,fontFamily:"Liberation Serif",fill:colorValues[i]}))
 ]});
d3.select(plot).selectAll("text").each(function(){
  const s=this.textContent;
  if(!/[*{]/.test(s))return;
  const sel=d3.select(this);sel.text(null);
  for(const part of s.split(/(\*[^*]+\*|\{[^}]+\})/)){
    if(!part)continue;
    if(part[0]=="*")sel.append("tspan").attr("font-style","italic").text(part.slice(1,-1));
    else if(part[0]=="{"){sel.append("tspan").attr("font-size",6).attr("dy",2).text(part.slice(1,-1));sel.append("tspan").attr("dy",-2).text("\u200a");}
    else sel.append("tspan").text(part);
  }
});
document.getElementById("c").appendChild(plot);
</script></body></html>
